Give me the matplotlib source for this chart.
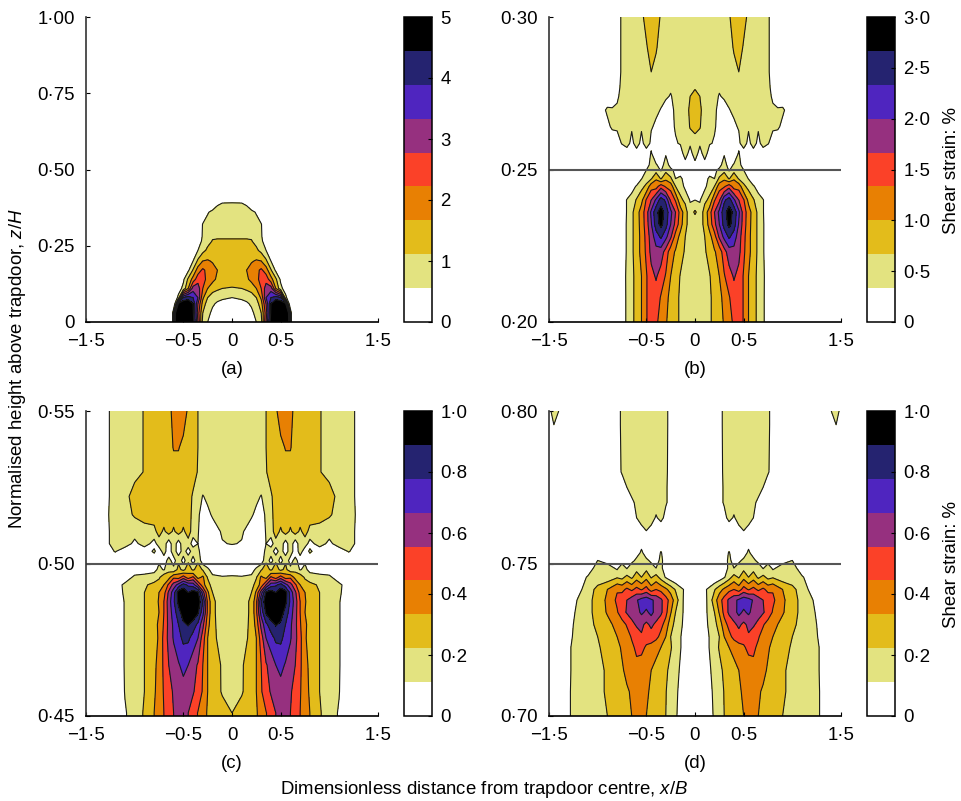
import numpy as np
import matplotlib
matplotlib.use("Agg")
import matplotlib.pyplot as plt
from matplotlib.colors import ListedColormap

plt.rcParams['font.family'] = ['Liberation Sans', 'DejaVu Sans']
plt.rcParams['mathtext.fontset'] = 'custom'
plt.rcParams['mathtext.rm'] = 'Liberation Sans'
plt.rcParams['mathtext.it'] = 'Liberation Sans:italic'
plt.rcParams['font.size'] = 13.4

colours = ['#ffffff', '#e3e380', '#e3bc1b', '#e88003', '#fb4128',
           '#96307f', '#4f25bf', '#252370', '#000000']

x_ticks = [-1.5, -0.5, 0, 0.5, 1.5]
x_labels = ['\u22121\u00b75', '\u22120\u00b75', '0', '0\u00b75', '1\u00b75']

# all grids below are read as colour band number, 1.0 = edge of white, 2.0 = edge of pale yellow ...
# columns are |x/B|, both sides of the trapdoor are the same

# (a)
a_x = [0, .1, .15, .2, .25, .3, .35, .4, .45, .5, .55, .58, .61, .65, 1.5]
a_z = [0, .03, .06, .08, .11, .14, .17, .20, .235, .265, .28, .32, .36, .39, .42]
a_bands = [
    [.2, .4, .55, .75, 1.0, 1.6, 5, 8.5, 9, 9, 9, 8.5, 1.0, 0, 0],
    [.5, .6, .7, .85, 1.2, 2.0, 4.5, 8.2, 9, 9, 9, 8, .9, 0, 0],
    [.75, .8, .9, 1.1, 1.5, 2.6, 5, 8, 8.8, 9, 8.5, 1.2, .4, 0, 0],
    [1.0, 1.1, 1.2, 1.5, 2.0, 3.2, 6, 7, 7.6, 7, 1.3, .5, .1, 0, 0],
    [1.95, 2.0, 2.2, 2.4, 3.0, 4.0, 5.5, 5.5, 3.0, 1.3, .5, .1, 0, 0, 0],
    [2.3, 2.4, 2.8, 3.3, 3.6, 4.5, 4.6, 3.4, 2.2, .8, .2, 0, 0, 0, 0],
    [2.5, 2.6, 3.0, 3.4, 3.7, 4.2, 3.5, 2.1, .8, .3, 0, 0, 0, 0, 0],
    [2.6, 2.6, 2.7, 2.9, 3.1, 3.0, 2.2, 1.0, .4, 0, 0, 0, 0, 0, 0],
    [2.4, 2.4, 2.4, 2.4, 2.2, 1.7, 1.0, .3, 0, 0, 0, 0, 0, 0, 0],
    [2.1, 2.1, 2.1, 2.05, 1.7, 1.2, .5, .1, 0, 0, 0, 0, 0, 0, 0],
    [1.9, 1.9, 1.9, 1.9, 1.6, 1.1, .4, 0, 0, 0, 0, 0, 0, 0, 0],
    [1.6, 1.6, 1.5, 1.4, 1.2, 1.05, .3, 0, 0, 0, 0, 0, 0, 0, 0],
    [1.3, 1.3, 1.25, 1.15, .95, .4, 0, 0, 0, 0, 0, 0, 0, 0, 0],
    [1.02, 1.0, .9, .5, .2, 0, 0, 0, 0, 0, 0, 0, 0, 0, 0],
    [.3, .2, 0, 0, 0, 0, 0, 0, 0, 0, 0, 0, 0, 0, 0],
]

# (b)
b_x = [0, .05, .1, .15, .2, .25, .3, .35, .4, .45, .5, .55, .6, .65, .7, .75, .8, .85, .9, 1.0, 1.5]
b_z = [.30, .29, .282, .277, .274, .2695, .264, .2586, .2553, .2515, .2498, .247, .2445,
       .240, .236, .232, .228, .223, .215, .208, .20]
b_bands = [
    [1.4, 1.4, 1.4, 1.4, 1.4, 1.4, 1.5, 1.9, 2.4, 2.5, 2.3, 1.8, 1.5, 1.4, 1.3, 1.1, .7, .3, 0, 0, 0],
    [1.4, 1.4, 1.4, 1.4, 1.4, 1.4, 1.5, 1.6, 2.1, 2.4, 1.9, 1.6, 1.5, 1.4, 1.3, 1.1, .7, .3, 0, 0, 0],
    [1.6, 1.4, 1.4, 1.4, 1.4, 1.4, 1.4, 1.5, 1.7, 2.0, 1.7, 1.5, 1.4, 1.4, 1.3, 1.1, .7, .3, 0, 0, 0],
    [1.9, 1.4, 1.3, 1.3, 1.3, 1.1, 1.3, 1.4, 1.5, 1.5, 1.5, 1.4, 1.4, 1.4, 1.3, 1.15, .8, .3, 0, 0, 0],
    [2.3, 2.0, 1.4, 1.3, 1.2, .95, 1.1, 1.3, 1.4, 1.4, 1.4, 1.4, 1.4, 1.3, 1.3, 1.2, .9, .5, .2, 0, 0],
    [2.7, 2.3, 1.3, 1.2, 1.1, .85, .7, .95, 1.2, 1.3, 1.3, 1.3, 1.3, 1.3, 1.3, 1.2, 1.1, 1.1, 1.2, .2, 0],
    [2.6, 2.1, 1.2, 1.1, 1.1, .7, .5, .5, .8, 1.1, 1.2, 1.2, 1.2, 1.2, 1.3, 1.2, 1.2, 1.2, .7, 0, 0],
    [1.2, 1.2, 1.2, 1.1, .9, .5, .3, .3, .4, .7, 1.8, .5, 1.8, .5, 1.7, 1.1, .4, .1, 0, 0, 0],
    [1.7, .5, 1.6, .4, .2, .2, .9, .3, .2, 1.1, .2, .3, .2, .1, 0, 0, 0, 0, 0, 0, 0],
    [.6, .7, .5, .3, .5, .7, 1.4, .6, 1.1, 1.5, .3, .1, 0, 0, 0, 0, 0, 0, 0, 0, 0],
    [.5, .5, .5, .5, .8, 1.2, 1.7, .9, 1.6, 1.6, 1.0, .2, 0, 0, 0, 0, 0, 0, 0, 0, 0],
    [.4, .8, .6, 1.2, 1.0, 2.2, 2.8, 1.9, 2.9, 1.9, 1.6, .95, .2, 0, 0, 0, 0, 0, 0, 0, 0],
    [.5, .9, .7, 1.6, 2.0, 3.6, 3.8, 4.6, 3.5, 3.6, 2.2, 1.7, 1.1, .6, .1, 0, 0, 0, 0, 0, 0],
    [1.0, .9, 1.8, 2.2, 3.9, 4.8, 6.8, 7.5, 6.2, 5.0, 4.1, 2.7, 2.1, 1.4, 1.05, .4, 0, 0, 0, 0, 0],
    [2.2, 1.4, 2.4, 3.6, 5.0, 6.3, 7.6, 8.5, 7.7, 6.2, 4.5, 3.5, 2.5, 1.8, 1.05, .4, 0, 0, 0, 0, 0],
    [1.2, 1.5, 2.3, 3.4, 4.7, 6.0, 7.4, 8.3, 7.5, 5.9, 4.5, 3.4, 2.5, 1.8, 1.1, .4, 0, 0, 0, 0, 0],
    [1.2, 1.4, 2.0, 2.7, 3.6, 5.2, 6.3, 7.2, 6.5, 5.5, 4.3, 3.3, 2.5, 1.8, 1.1, .4, 0, 0, 0, 0, 0],
    [1.2, 1.3, 1.9, 2.3, 2.9, 3.4, 4.6, 5.5, 5.7, 5.3, 4.2, 3.3, 2.5, 1.8, 1.1, .4, 0, 0, 0, 0, 0],
    [1.2, 1.3, 1.6, 1.95, 2.4, 3.0, 3.9, 4.6, 5.1, 4.7, 3.9, 3.0, 2.4, 1.7, 1.2, .4, 0, 0, 0, 0, 0],
    [1.2, 1.3, 1.6, 1.9, 2.2, 2.7, 3.3, 3.9, 4.6, 4.7, 3.9, 3.0, 2.4, 1.7, 1.2, .3, 0, 0, 0, 0, 0],
    [1.2, 1.3, 1.6, 1.9, 2.2, 2.6, 3.1, 3.6, 4.2, 4.7, 3.9, 3.0, 2.4, 1.7, 1.2, .3, 0, 0, 0, 0, 0],
]

# (c)
c_x = [0, .1, .2, .25, .3, .35, .4, .45, .5, .55, .6, .65, .7, .75, .8, .9, 1.0, 1.1, 1.2, 1.3, 1.5]
c_z = [.55, .538, .53, .522, .516, .5105, .5065, .504, .501, .498, .4955, .493, .4905, .4875,
       .484, .48, .4755, .4667, .458, .451, .45]
c_bands = [
    [1.5, 1.5, 1.6, 1.7, 1.85, 2.0, 2.4, 2.9, 3.3, 3.5, 3.2, 2.8, 2.6, 2.5, 2.4, 2.05, 1.7, 1.5, 1.3, .8, 0],
    [1.5, 1.5, 1.6, 1.7, 1.85, 2.0, 2.3, 2.6, 2.85, 3.03, 3.03, 2.8, 2.6, 2.5, 2.4, 2.05, 1.7, 1.5, 1.3, .8, 0],
    [1.4, 1.4, 1.5, 1.6, 1.8, 1.95, 2.3, 2.6, 2.7, 2.8, 2.8, 2.7, 2.6, 2.5, 2.4, 2.05, 1.7, 1.5, 1.3, .8, 0],
    [1.3, 1.3, 1.2, 1.2, .95, 1.5, 1.9, 2.3, 2.6, 2.7, 2.7, 2.7, 2.6, 2.5, 2.5, 2.3, 2.4, 1.7, 1.3, .8, 0],
    [1.3, 1.3, 1.1, .8, .5, 1.2, 1.8, 2.3, 2.6, 2.6, 2.6, 2.7, 2.6, 2.6, 2.5, 2.4, 2.1, 1.7, 1.4, .8, 0],
    [1.2, 1.1, .6, .4, .3, 1.1, 1.5, 2.5, 1.8, 2.5, 1.8, 2.5, 1.8, 2.4, 1.7, 1.6, 1.5, 1.4, 1.3, .8, 0],
    [1.05, .95, .4, .2, .1, 1.0, .5, 1.6, 1.7, .4, 1.7, .3, 1.6, 1.5, .6, 1.5, .7, 1.6, 1.6, .6, 0],
    [.6, .4, .3, .2, .1, 1.4, 1.6, .4, 1.6, .3, 1.7, .3, 1.5, .4, 1.2, .3, .3, .3, 1.1, .2, 0],
    [.3, .2, .2, .2, .3, 1.8, .5, 1.8, .5, 1.8, .5, 1.4, .4, .8, .2, .2, .1, 0, 0, 0, 0],
    [.2, .3, .6, 1.2, 1.9, 2.5, 1.8, 2.6, 1.7, 2.3, 1.3, 1.7, .9, 1.3, .6, .7, .2, 0, 0, 0, 0],
    [1.2, 1.1, 1.2, 1.9, 3.2, 2.6, 4.2, 3.4, 4.5, 3.5, 3.8, 2.6, 2.7, 1.8, 1.6, 1.2, 1.3, .2, 0, 0, 0],
    [1.4, 1.3, 1.6, 2.4, 3.4, 5.0, 6.5, 6.8, 7.4, 6.4, 5.4, 4.2, 3.0, 2.6, 2.2, 1.9, 1.4, 1.3, .3, 0, 0],
    [1.4, 1.4, 2.0, 3.2, 5.5, 8.2, 8.6, 8.0, 8.8, 8.5, 6.6, 5.2, 3.6, 3.0, 2.5, 2.0, 1.5, 1.3, 0, 0, 0],
    [1.4, 1.5, 2.2, 3.8, 7.0, 8.8, 9, 9, 9, 8.3, 6.8, 5.5, 4.0, 3.1, 2.5, 2.0, 1.5, 1.1, 0, 0, 0],
    [1.5, 1.5, 2.2, 3.8, 6.4, 8.2, 9, 9, 8.6, 7.6, 6.5, 5.4, 4.0, 3.0, 2.5, 2.0, 1.5, 1.1, 0, 0, 0],
    [1.4, 1.6, 2.2, 3.4, 5.3, 6.8, 7.5, 8.1, 7.8, 7.0, 6.2, 5.3, 4.1, 3.2, 2.6, 2.0, 1.5, 1.1, 0, 0, 0],
    [1.4, 1.7, 2.2, 3.0, 4.5, 6.0, 6.6, 7.2, 7.2, 6.7, 6.1, 5.3, 4.3, 3.1, 2.7, 2.0, 1.5, 1.1, 0, 0, 0],
    [1.4, 1.9, 2.5, 3.0, 4.0, 4.9, 5.4, 6.0, 6.3, 5.9, 5.5, 5.0, 4.2, 3.3, 2.8, 2.0, 1.5, 1.1, 0, 0, 0],
    [1.5, 1.9, 2.6, 3.0, 3.9, 4.6, 5.1, 5.5, 5.6, 5.4, 5.1, 4.7, 4.1, 3.3, 2.9, 2.0, 1.5, 1.05, 0, 0, 0],
    [2.0, 2.4, 2.8, 2.9, 3.4, 3.95, 4.5, 5.0, 5.4, 5.3, 5.0, 4.5, 4.0, 3.5, 3.0, 2.1, 1.5, .9, 0, 0, 0],
    [2.1, 2.4, 2.8, 2.9, 3.4, 3.95, 4.5, 5.0, 5.4, 5.3, 5.0, 4.5, 4.0, 3.5, 3.0, 2.1, 1.5, .9, 0, 0, 0],
]

# (d)
d_x = [0, .1, .2, .25, .3, .35, .4, .45, .5, .55, .6, .65, .7, .75, .8, .9, 1.0, 1.1, 1.2, 1.3, 1.4, 1.45, 1.5]
d_z = [.80, .7955, .78, .775, .77, .765, .762, .757, .7535, .751, .7485, .7455, .7415, .738,
       .734, .73, .726, .7225, .715, .708, .70]
d_bands = [
    [0, 0, .3, .7, 1.2, 1.4, 1.5, 1.5, 1.5, 1.5, 1.5, 1.4, 1.3, 1.1, .8, .4, .1, .1, .2, .4, 1.0, 1.3, .8],
    [0, 0, .3, .7, 1.2, 1.4, 1.5, 1.5, 1.5, 1.5, 1.5, 1.4, 1.3, 1.1, .8, .4, .1, .1, .2, .4, .8, 1.0, .6],
    [0, 0, .3, .7, 1.15, 1.4, 1.5, 1.5, 1.5, 1.5, 1.5, 1.4, 1.25, 1.05, .8, .4, .1, 0, 0, .2, .5, .7, .5],
    [0, 0, .3, .7, 1.1, 1.4, 1.5, 1.5, 1.5, 1.5, 1.4, 1.2, 1.0, .7, .4, .2, 0, 0, 0, 0, 0, 0, 0],
    [0, 0, .3, .7, 1.1, 1.3, 1.4, 1.4, 1.4, 1.3, 1.1, .9, .6, .3, .1, 0, 0, 0, 0, 0, 0, 0, 0],
    [0, 0, .2, .4, .7, 1.3, .9, 1.4, 1.2, 1.4, 1.0, .5, .3, .1, 0, 0, 0, 0, 0, 0, 0, 0, 0],
    [0, 0, .1, .2, .3, .6, .4, .9, 1.2, .9, .3, .3, .1, 0, 0, 0, 0, 0, 0, 0, 0, 0, 0],
    [0, 0, 0, .1, .2, .3, .3, .3, .4, .6, .3, .2, 0, 0, 0, 0, 0, 0, 0, 0, 0, 0, 0],
    [0, 0, 0, .1, .4, 1.1, .3, .3, .5, 1.2, .5, .3, .1, 0, 0, 0, 0, 0, 0, 0, 0, 0, 0],
    [0, 0, 0, .1, .4, 1.3, .5, .8, 1.2, 1.5, 1.3, .6, .5, .5, .5, .6, 1.0, .3, 0, 0, 0, 0, 0],
    [0, 0, 0, .2, .5, 1.2, 1.0, 1.4, 1.7, 1.8, 1.6, 1.8, .9, 1.6, .8, 1.5, 1.4, .5, 0, 0, 0, 0, 0],
    [0, 0, .1, .4, .9, 1.6, 2.4, 1.9, 2.7, 2.0, 2.6, 1.8, 2.3, 1.7, 1.9, 1.4, 1.4, 1.1, .5, 0, 0, 0, 0],
    [.1, .8, 1.9, 2.6, 3.2, 3.7, 4.0, 3.5, 4.4, 3.9, 4.3, 3.8, 4.2, 3.7, 3.9, 3.0, 2.3, 1.5, .7, 0, 0, 0, 0],
    [0, .6, 2.5, 3.6, 4.4, 5.2, 5.7, 6.2, 6.6, 6.4, 5.9, 5.5, 5.0, 4.7, 4.2, 3.2, 2.4, 1.7, 1.1, .3, 0, 0, 0],
    [0, .7, 2.0, 3.1, 4.3, 5.2, 5.6, 6.3, 5.8, 6.2, 5.6, 5.3, 5.1, 4.6, 3.9, 3.1, 2.4, 1.7, 1.2, .6, 0, 0, 0],
    [0, .7, 1.7, 2.4, 3.6, 4.3, 4.8, 5.2, 4.8, 5.2, 5.1, 4.8, 4.1, 3.6, 3.3, 2.7, 2.2, 1.7, 1.3, .7, 0, 0, 0],
    [0, .6, 1.5, 2.0, 3.0, 3.7, 4.3, 4.6, 4.3, 4.9, 4.6, 4.1, 3.6, 3.3, 3.0, 2.5, 2.0, 1.7, 1.3, .8, 0, 0, 0],
    [0, .6, 1.5, 2.1, 2.6, 3.0, 3.3, 3.6, 3.9, 4.2, 4.2, 3.8, 3.3, 3.1, 2.8, 2.3, 1.9, 1.7, 1.3, .9, .1, 0, 0],
    [0, .5, 1.3, 1.7, 2.2, 2.5, 2.7, 3.0, 3.4, 3.6, 3.7, 3.5, 3.2, 2.9, 2.7, 2.1, 1.8, 1.6, 1.3, .9, .2, 0, 0],
    [0, .5, 1.15, 1.5, 2.05, 2.4, 2.7, 2.9, 3.1, 3.5, 3.4, 3.1, 2.9, 2.7, 2.5, 2.1, 1.8, 1.6, 1.4, .9, .2, 0, 0],
    [0, .4, 1.1, 1.5, 2.0, 2.3, 2.6, 2.8, 3.0, 3.1, 3.1, 3.0, 2.7, 2.6, 2.5, 2.0, 1.8, 1.6, 1.4, .9, .1, 0, 0],
]

W, H = 961, 801
fig = plt.figure(figsize=(W / 100, H / 100), dpi=100)
cmap = ListedColormap(colours)


def px_axes(left, top, right, bottom):
    return fig.add_axes([left / W, 1 - bottom / H, (right - left) / W, (bottom - top) / H])


def panel(left, top, x, z, bands, vmax, cticks, clabels, yticks, ylabels, tag):
    ax = px_axes(left, top, left + 292, top + 305)
    levels = np.linspace(0, vmax, 10)
    vals = np.array(bands, dtype=float) * vmax / 9
    x = np.array(x)
    for side in (-1, 1):
        cf = ax.contourf(side * x, z, vals, levels=levels, cmap=cmap)
        ax.contour(side * x, z, vals, levels=levels[1:-1], colors='#1a1a1a', linewidths=0.8)
    ax.set_xlim(-1.5, 1.5)
    ax.set_ylim(yticks[0], yticks[-1])
    ax.set_xticks(x_ticks)
    ax.set_xticklabels(x_labels)
    ax.set_yticks(yticks)
    ax.set_yticklabels(ylabels)
    ax.tick_params(direction='in', length=3, width=0.8, pad=8)
    ax.spines['top'].set_visible(False)
    ax.spines['right'].set_visible(False)
    ax.spines['bottom'].set_linewidth(1.2)
    ax.spines['left'].set_linewidth(1.2)
    ax.spines['left'].set_color('#333333')
    ax.set_xlabel(tag, labelpad=8)

    cax = px_axes(left + 318, top, left + 346, top + 305)
    cb = fig.colorbar(cf, cax=cax)
    cb.set_ticks(cticks)
    cb.set_ticklabels(clabels)
    cb.ax.tick_params(direction='in', length=3, width=0.8, pad=6)
    cb.outline.set_linewidth(1.1)
    return ax


ax_a = panel(86, 17, a_x, a_z, a_bands, 5, [0, 1, 2, 3, 4, 5], ['0', '1', '2', '3', '4', '5'],
             [0, .25, .5, .75, 1.0], ['0', '0\u00b725', '0\u00b750', '0\u00b775', '1\u00b700'], '(a)')
ax_b = panel(549, 17, b_x, b_z, b_bands, 3, [0, .5, 1, 1.5, 2, 2.5, 3],
             ['0', '0\u00b75', '1\u00b70', '1\u00b75', '2\u00b70', '2\u00b75', '3\u00b70'],
             [.20, .25, .30], ['0\u00b720', '0\u00b725', '0\u00b730'], '(b)')
ax_c = panel(86, 411, c_x, c_z, c_bands, 1, [0, .2, .4, .6, .8, 1],
             ['0', '0\u00b72', '0\u00b74', '0\u00b76', '0\u00b78', '1\u00b70'],
             [.45, .50, .55], ['0\u00b745', '0\u00b750', '0\u00b755'], '(c)')
ax_d = panel(549, 411, d_x, d_z, d_bands, 1, [0, .2, .4, .6, .8, 1],
             ['0', '0\u00b72', '0\u00b74', '0\u00b76', '0\u00b78', '1\u00b70'],
             [.70, .75, .80], ['0\u00b770', '0\u00b775', '0\u00b780'], '(d)')

for ax, level in ((ax_b, .25), (ax_c, .50), (ax_d, .75)):
    ax.axhline(level, color='#555555', lw=1.5)

fig.text(18 / W, 1 - 369 / H, 'Normalised height above trapdoor, $z/H$', rotation=90, ha='center', va='center')
fig.text(484 / W, 1 - 789 / H, 'Dimensionless distance from trapdoor centre, $x/B$', ha='center', va='center')
fig.text(952 / W, 1 - 171 / H, 'Shear strain: %', rotation=90, ha='center', va='center')
fig.text(952 / W, 1 - 565 / H, 'Shear strain: %', rotation=90, ha='center', va='center')

fig.savefig('out.png', dpi=100)
